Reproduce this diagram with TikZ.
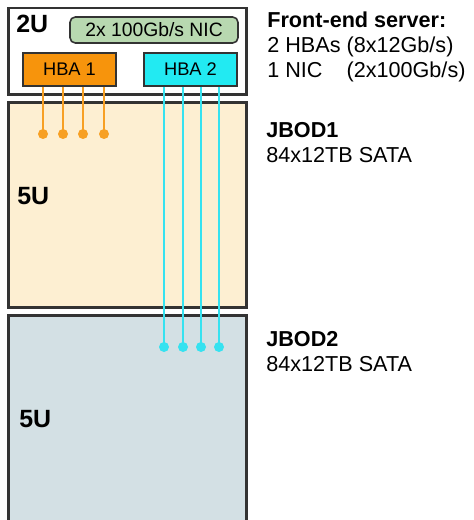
\documentclass[tikz,border=0pt]{standalone}
\usepackage{fontspec}
\setmainfont{Liberation Sans}
\usepackage{tikz}
\definecolor{frame}{HTML}{333333}
\definecolor{peach}{HTML}{FDEFD2}
\definecolor{steel}{HTML}{D3E0E4}
\definecolor{nicgreen}{HTML}{B8D8B0}
\definecolor{hbaorange}{HTML}{F7940C}
\definecolor{hbacyan}{HTML}{22EAF2}
\definecolor{lineorange}{HTML}{F7A024}
\definecolor{linecyan}{HTML}{36E2F0}

\tikzset{
  unitbox/.style={draw=frame, line width=1.7pt, minimum width=4.78cm},
  card/.style={draw=frame, line width=0.9pt, inner sep=0pt},
  cable/.style={line width=1.7pt},
  big/.style={anchor=west, inner sep=0pt, font=\fontsize{14.2}{16}\selectfont\bfseries},
  info/.style={anchor=north west, align=left, inner sep=0pt,
    font=\fontsize{12.3}{14.4}\selectfont}
}

\begin{document}
\begin{tikzpicture}[x=0.02cm, y=-0.02cm]
  \useasboundingbox (0,0) rectangle (473,520);
  \clip (0,0) rectangle (473,520);
  % enclosures
  \node[unitbox, fill=white, minimum height=1.74cm] (server) at (127.5,51.5) {};
  \node[unitbox, fill=peach, minimum height=4.12cm] (jbod1) at (127.5,205) {};
  \node[unitbox, fill=steel, minimum height=4.14cm] (jbod2) at (127.5,418.5) {};
  \node[big] (u2) at (16,24) {2U};
  \node[big] (u5a) at (17,196) {5U};
  \node[big] (u5b) at (19,419) {5U};
  % cards
  \node[card, fill=nicgreen, rounded corners=3pt, minimum width=3.36cm, minimum height=0.52cm,
    font=\fontsize{11}{12}\selectfont] (nic) at (154,30) {2x 100Gb/s NIC};
  \node[card, fill=hbaorange, minimum width=1.86cm, minimum height=0.66cm,
    font=\fontsize{10.4}{12}\selectfont] (hba1) at (69.5,69.5) {HBA 1};
  \node[card, fill=hbacyan, minimum width=1.86cm, minimum height=0.66cm,
    font=\fontsize{10.4}{12}\selectfont] (hba2) at (190.5,69.5) {HBA 2};
  % SAS cables
  \foreach \x [count=\i] in {43,63,83,104} {
    \coordinate (p\i) at (\x,134);
    \draw[cable, lineorange] (p\i |- hba1.south) -- (p\i);
    \fill[lineorange] (p\i) circle (5);
  }
  \foreach \x [count=\i] in {164,183,201,219} {
    \coordinate (q\i) at (\x,347);
    \draw[cable, linecyan] (q\i |- hba2.south) -- (q\i);
    \fill[linecyan] (q\i) circle (5);
  }
  % descriptions
  \node[info] (fe) at (267,11) {\textbf{Front-end server:}\\
    2 HBAs (8x12Gb/s)\\
    \rlap{1 NIC}\hphantom{2 HBAs }(2x100Gb/s)};
  \node[info] (d1) at (266,122) {\textbf{JBOD1}\\84x12TB SATA};
  \node[info] (d2) at (266,331) {\textbf{JBOD2}\\84x12TB SATA};
\end{tikzpicture}
\end{document}
